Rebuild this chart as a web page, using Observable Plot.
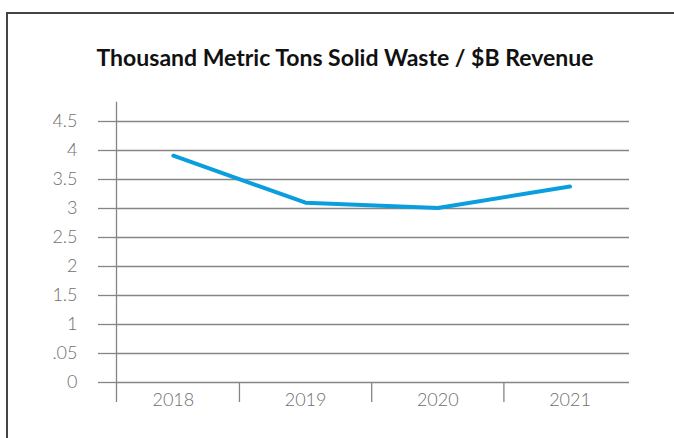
<!DOCTYPE html>
<html>
<head>
<meta charset="utf-8">
<script src="https://cdn.jsdelivr.net/npm/d3@7"></script>
<script src="https://cdn.jsdelivr.net/npm/@observablehq/plot@0.6"></script>
<style>
  html, body { margin: 0; padding: 0; background: #fff; overflow: hidden; }
  #wrap { position: relative; width: 674px; height: 438px; overflow: hidden; font-family: Lato, "Open Sans", sans-serif; }
  #topline { position: absolute; left: 6px; top: 12px; width: 668px; height: 2px; background: #444; }
  #leftline { position: absolute; left: 6px; top: 12px; width: 2px; height: 426px; background: #444; }
  #title { position: absolute; left: 0; top: 44px; width: 690px; text-align: center; font-size: 23px; line-height: 1.2; font-weight: 700; color: #111; white-space: nowrap; }
  #chart { position: absolute; left: 0; top: 100px; }
</style>
</head>
<body>
<div id="wrap">
  <div id="topline"></div>
  <div id="leftline"></div>
  <div id="title">Thousand Metric Tons Solid Waste / $B Revenue</div>
  <div id="chart"></div>
</div>
<script>
const years = [2018, 2019, 2020, 2021];
const values = [3.91, 3.10, 3.01, 3.38];
const yTicks = [0, 0.5, 1, 1.5, 2, 2.5, 3, 3.5, 4, 4.5];
const yTickLabels = ["0", ".05", "1", "1.5", "2", "2.5", "3", "3.5", "4", "4.5"];

const data = years.map((y, i) => ({year: y, value: values[i]}));
const separators = years.slice(0, -1).map(y => y + 0.5);
const xLeft = 2017.57, xRight = 2021.45;
const gray = "#858585";
const labelColor = "#6e6e6e";

const chart = Plot.plot({
  width: 674,
  height: 338,
  marginLeft: 116,
  marginRight: 45,
  marginTop: 21,
  marginBottom: 56,
  style: {fontFamily: "Lato, 'Open Sans', sans-serif", background: "transparent"},
  x: {type: "linear", domain: [xLeft, xRight], axis: null},
  y: {domain: [0, 4.5], axis: null},
  marks: [
    Plot.gridY(yTicks, {stroke: gray, strokeOpacity: 1, strokeWidth: 1.3}),
    Plot.axisY(yTicks, {
      label: null,
      tickSize: 18, tickPadding: 21, stroke: gray, strokeWidth: 1.3, fill: labelColor,
      fontSize: 18, fontWeight: 300,
      tickFormat: d => yTickLabels[yTicks.indexOf(d)]
    }),
    Plot.ruleX([xLeft], {y1: -0.345, y2: 4.83, stroke: gray, strokeWidth: 1.3}),
    Plot.ruleX(separators, {y1: 0, y2: -0.345, stroke: gray, strokeWidth: 1.3}),
    Plot.text(years, {x: d => d, y: 0, dy: 18, text: d => String(d), fill: labelColor, fontSize: 18, fontWeight: 300}),
    Plot.line(data, {x: "year", y: "value", stroke: "#0a9ede", strokeWidth: 4, strokeLinecap: "round", strokeLinejoin: "round"})
  ]
});
document.getElementById("chart").appendChild(chart);
</script>
</body>
</html>
